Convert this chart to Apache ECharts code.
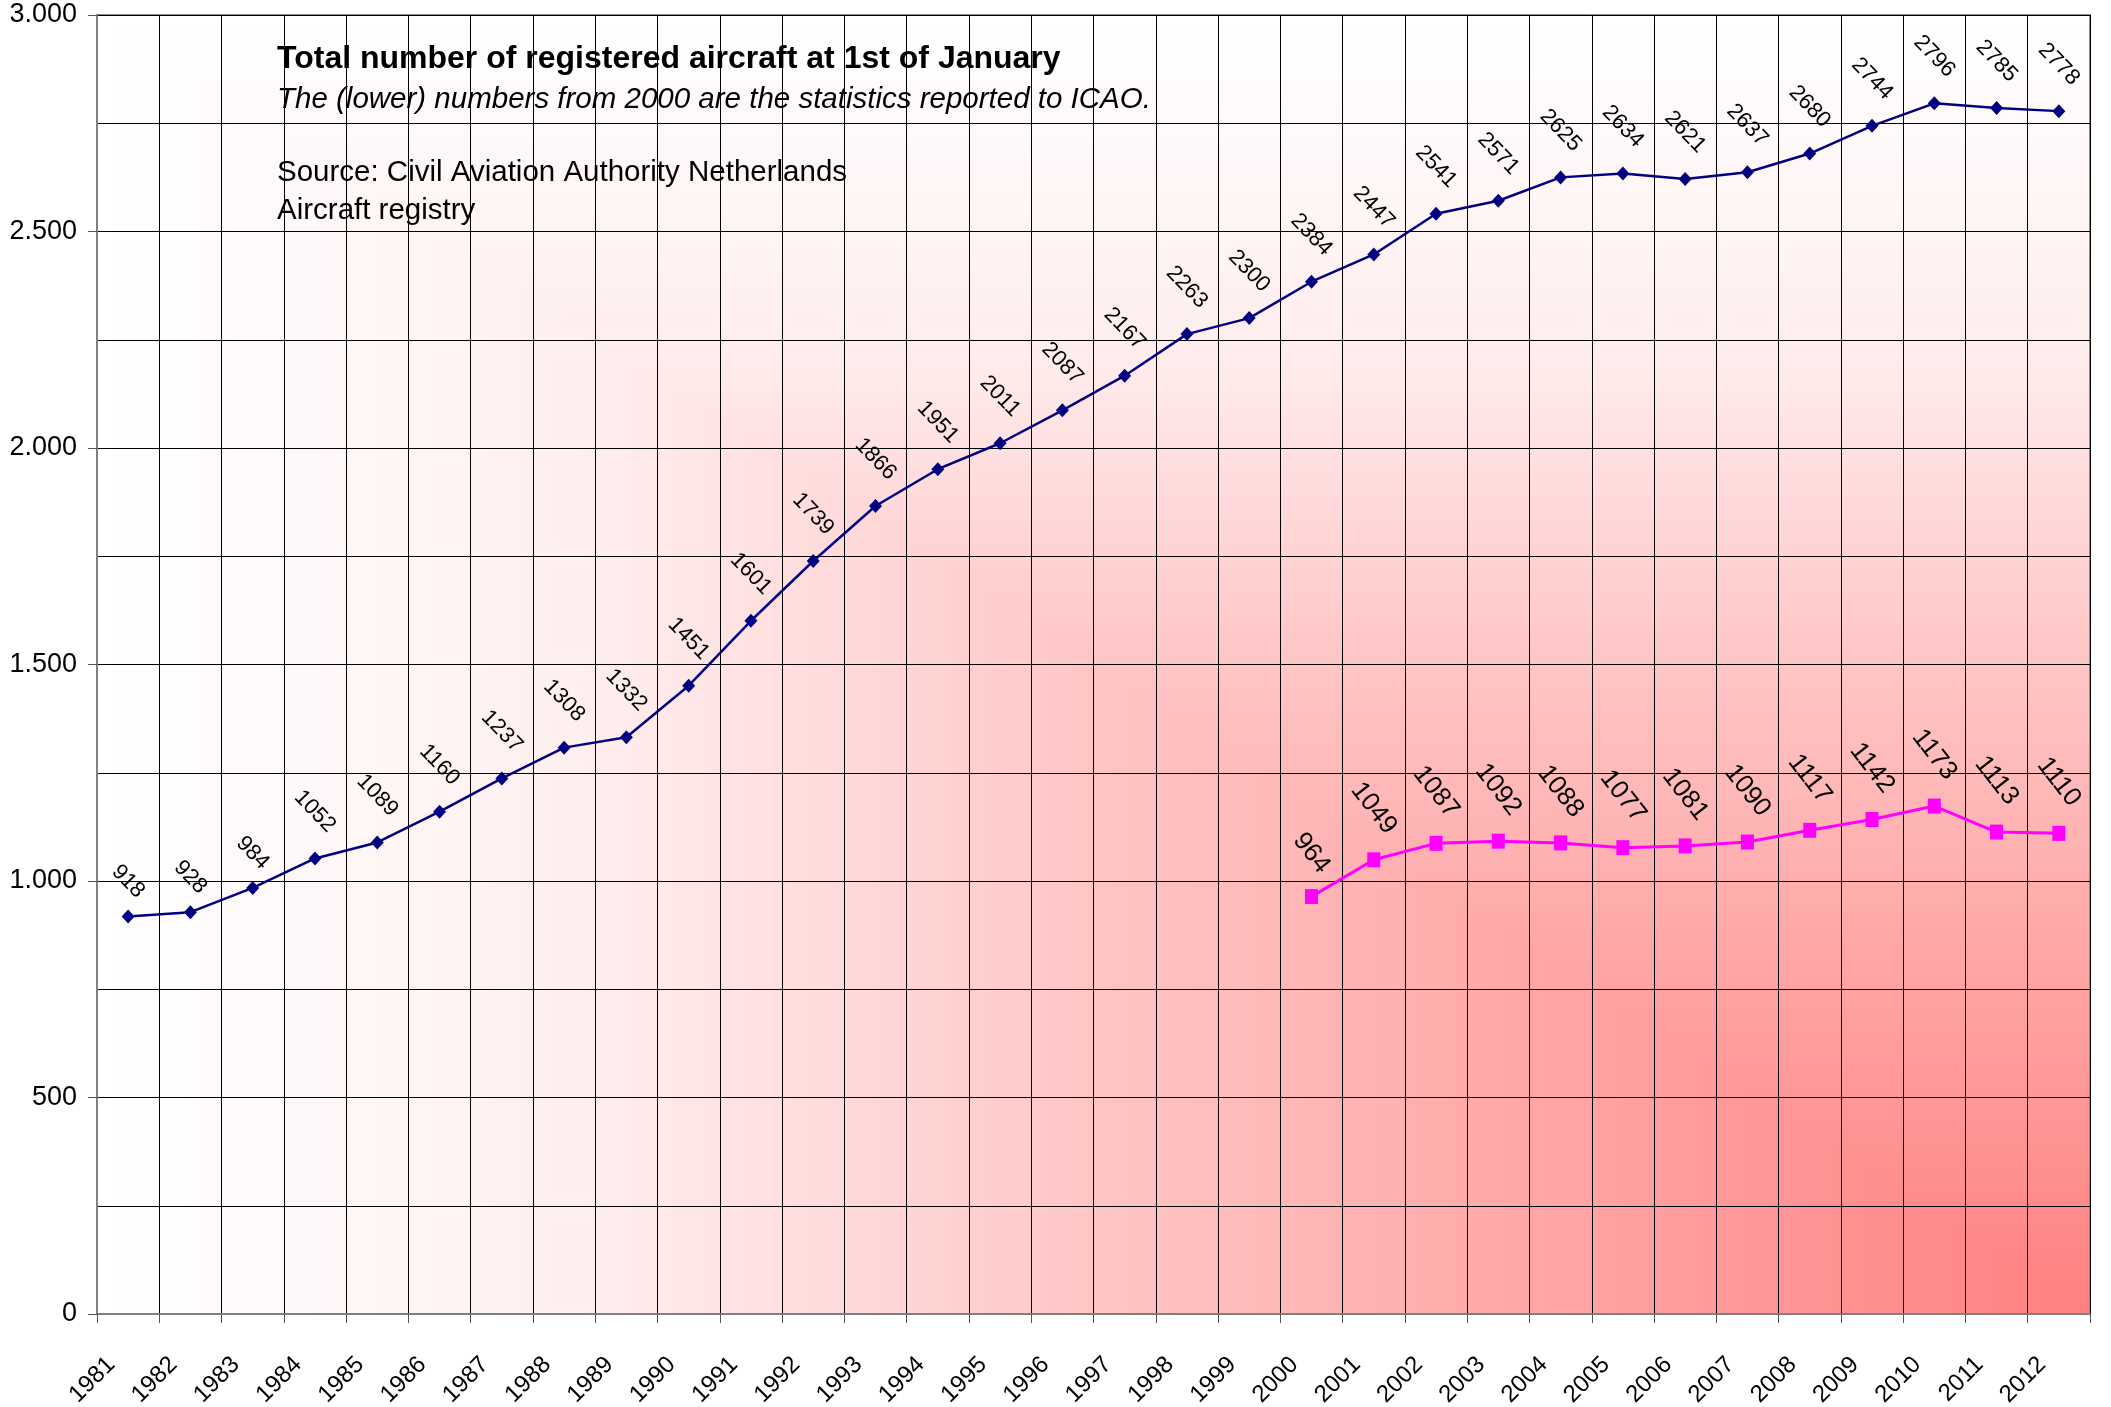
<!DOCTYPE html>
<html>
<head>
<meta charset="utf-8">
<script src="https://cdn.jsdelivr.net/npm/echarts@6/dist/echarts.min.js"></script>
<style>
  html, body { margin: 0; padding: 0; background: #fff; }
  #chart { width: 2111px; height: 1407px; }
</style>
</head>
<body>
<div id="chart"></div>
<script>
// data
const years = [
  '1981', '1982', '1983', '1984', '1985', '1986', '1987', '1988', '1989', '1990',
  '1991', '1992', '1993', '1994', '1995', '1996', '1997', '1998', '1999', '2000',
  '2001', '2002', '2003', '2004', '2005', '2006', '2007', '2008', '2009', '2010',
  '2011', '2012'
];
const totalRegistry = [
  918, 928, 984, 1052, 1089, 1160, 1237, 1308, 1332, 1451,
  1601, 1739, 1866, 1951, 2011, 2087, 2167, 2263, 2300, 2384,
  2447, 2541, 2571, 2625, 2634, 2621, 2637, 2680, 2744, 2796,
  2785, 2778
];
// ICAO numbers start in 2000
const icaoYears = ['2000', '2001', '2002', '2003', '2004', '2005', '2006', '2007', '2008', '2009', '2010', '2011', '2012'];
const icaoValues = [964, 1049, 1087, 1092, 1088, 1077, 1081, 1090, 1117, 1142, 1173, 1113, 1110];
const yTicks = [0, 500, 1000, 1500, 2000, 2500, 3000];

const W = 2111, H = 1407;
const plot = { left: 97, top: 15, right: 21, bottom: 93 };
const font = '"Liberation Sans", Arial, sans-serif';

// "from corner" gradient like Excel: white top/left, red towards bottom-right
function makeBackground() {
  const c = document.createElement('canvas');
  c.width = W; c.height = H;
  const ctx = c.getContext('2d');
  const img = ctx.createImageData(W, H);
  const x0 = plot.left, y0 = plot.top, x1 = W - plot.right, y1 = H - plot.bottom;
  const pw = x1 - x0, ph = y1 - y0;
  const stops = [[0, 128], [0.5, 197], [0.75, 238], [1, 255]];
  function gb(t) {
    for (let i = 1; i < stops.length; i++) {
      if (t <= stops[i][0]) {
        const a = stops[i - 1], b = stops[i];
        return a[1] + (b[1] - a[1]) * (t - a[0]) / (b[0] - a[0]);
      }
    }
    return 255;
  }
  for (let y = 0; y < H; y++) {
    for (let x = 0; x < W; x++) {
      const k = (y * W + x) * 4;
      let v = 255;
      if (x >= x0 && x <= x1 && y >= y0 && y <= y1) {
        const t = Math.max((x1 - x) / pw, (y1 - y) / ph);
        v = Math.round(gb(t));
      }
      img.data[k] = 255;
      img.data[k + 1] = v;
      img.data[k + 2] = v;
      img.data[k + 3] = 255;
    }
  }
  ctx.putImageData(img, 0, 0);
  return c;
}

function thousands(v) {
  if (v < 1000) return String(v);
  return Math.floor(v / 1000) + '.' + String(v % 1000).padStart(3, '0');
}

// rotated labels sit higher when the number is longer (like Excel)
function withLabelGap(values, short, long) {
  return values.map(v => {
    if (v === '-') return v;
    return { value: v, label: { distance: String(v).length > 3 ? long : short } };
  });
}

const chart = echarts.init(document.getElementById('chart'), null, { renderer: 'canvas' });

const option = {
  backgroundColor: '#fff',
  animation: false,
  textStyle: { fontFamily: font },
  title: [
    {
      text: 'Total number of registered aircraft at 1st of January',
      left: 277, top: 43, padding: 0,
      textStyle: { fontFamily: font, fontSize: 32, fontWeight: 'bold', color: '#000' }
    },
    {
      text: 'The (lower) numbers from 2000 are the statistics reported to ICAO.',
      left: 277, top: 85, padding: 0,
      textStyle: { fontFamily: font, fontSize: 29.5, fontWeight: 'normal', fontStyle: 'italic', color: '#000' }
    },
    {
      text: 'Source: Civil Aviation Authority Netherlands\nAircraft registry',
      left: 277, top: 154, padding: 0,
      textStyle: { fontFamily: font, fontSize: 29.5, fontWeight: 'normal', color: '#000', lineHeight: 38 }
    }
  ],
  grid: {
    left: plot.left, top: plot.top, right: plot.right, bottom: plot.bottom,
    outerBoundsMode: 'none',
    show: true,
    backgroundColor: { image: makeBackground(), repeat: 'no-repeat' },
    borderColor: '#8c8c8c',
    borderWidth: 2
  },
  xAxis: {
    type: 'category',
    data: years,
    boundaryGap: true,
    axisLine: { lineStyle: { color: '#808080', width: 2 } },
    axisTick: { show: true, length: 9, interval: 0, lineStyle: { color: '#555', width: 1 } },
    axisLabel: {
      interval: 0, rotate: 45, margin: 30, fontSize: 24, color: '#000',
      fontFamily: font, padding: [0, 24, 0, 0]
    },
    splitLine: { show: true, interval: 0, lineStyle: { color: '#000', width: 1 } }
  },
  yAxis: {
    type: 'value',
    min: 0, max: 3000, interval: 500,
    axisLine: { show: true, lineStyle: { color: '#808080', width: 2 } },
    axisTick: { show: true, length: 9, lineStyle: { color: '#555', width: 1 } },
    axisLabel: {
      margin: 20, fontSize: 27, color: '#000', fontFamily: font,
      formatter: v => yTicks.indexOf(v) >= 0 ? thousands(v) : ''
    },
    splitLine: { show: true, lineStyle: { color: '#000', width: 1 } },
    minorTick: { show: false, splitNumber: 2 },
    minorSplitLine: { show: true, lineStyle: { color: '#000', width: 1 } }
  },
  series: [
    {
      name: 'Registry',
      type: 'line',
      data: withLabelGap(totalRegistry, 28, 40),
      symbol: 'diamond',
      symbolSize: [13, 14],
      lineStyle: { color: '#000080', width: 2.5 },
      itemStyle: { color: '#000080' },
      label: {
        show: true, position: 'top', rotate: -46,
        align: 'center', verticalAlign: 'middle',
        fontSize: 22, color: '#000', fontFamily: font
      },
      z: 3
    },
    {
      name: 'ICAO',
      type: 'line',
      data: withLabelGap(years.map(y => {
        const i = icaoYears.indexOf(y);
        return i >= 0 ? icaoValues[i] : '-';
      }), 36, 44),
      symbol: 'rect',
      symbolSize: [13, 15],
      lineStyle: { color: '#ff00ff', width: 3 },
      itemStyle: { color: '#ff00ff' },
      label: {
        show: true, position: 'top', rotate: -52,
        align: 'center', verticalAlign: 'middle',
        fontSize: 26, color: '#000', fontFamily: font
      },
      z: 3
    }
  ]
};

chart.setOption(option);
</script>
</body>
</html>
